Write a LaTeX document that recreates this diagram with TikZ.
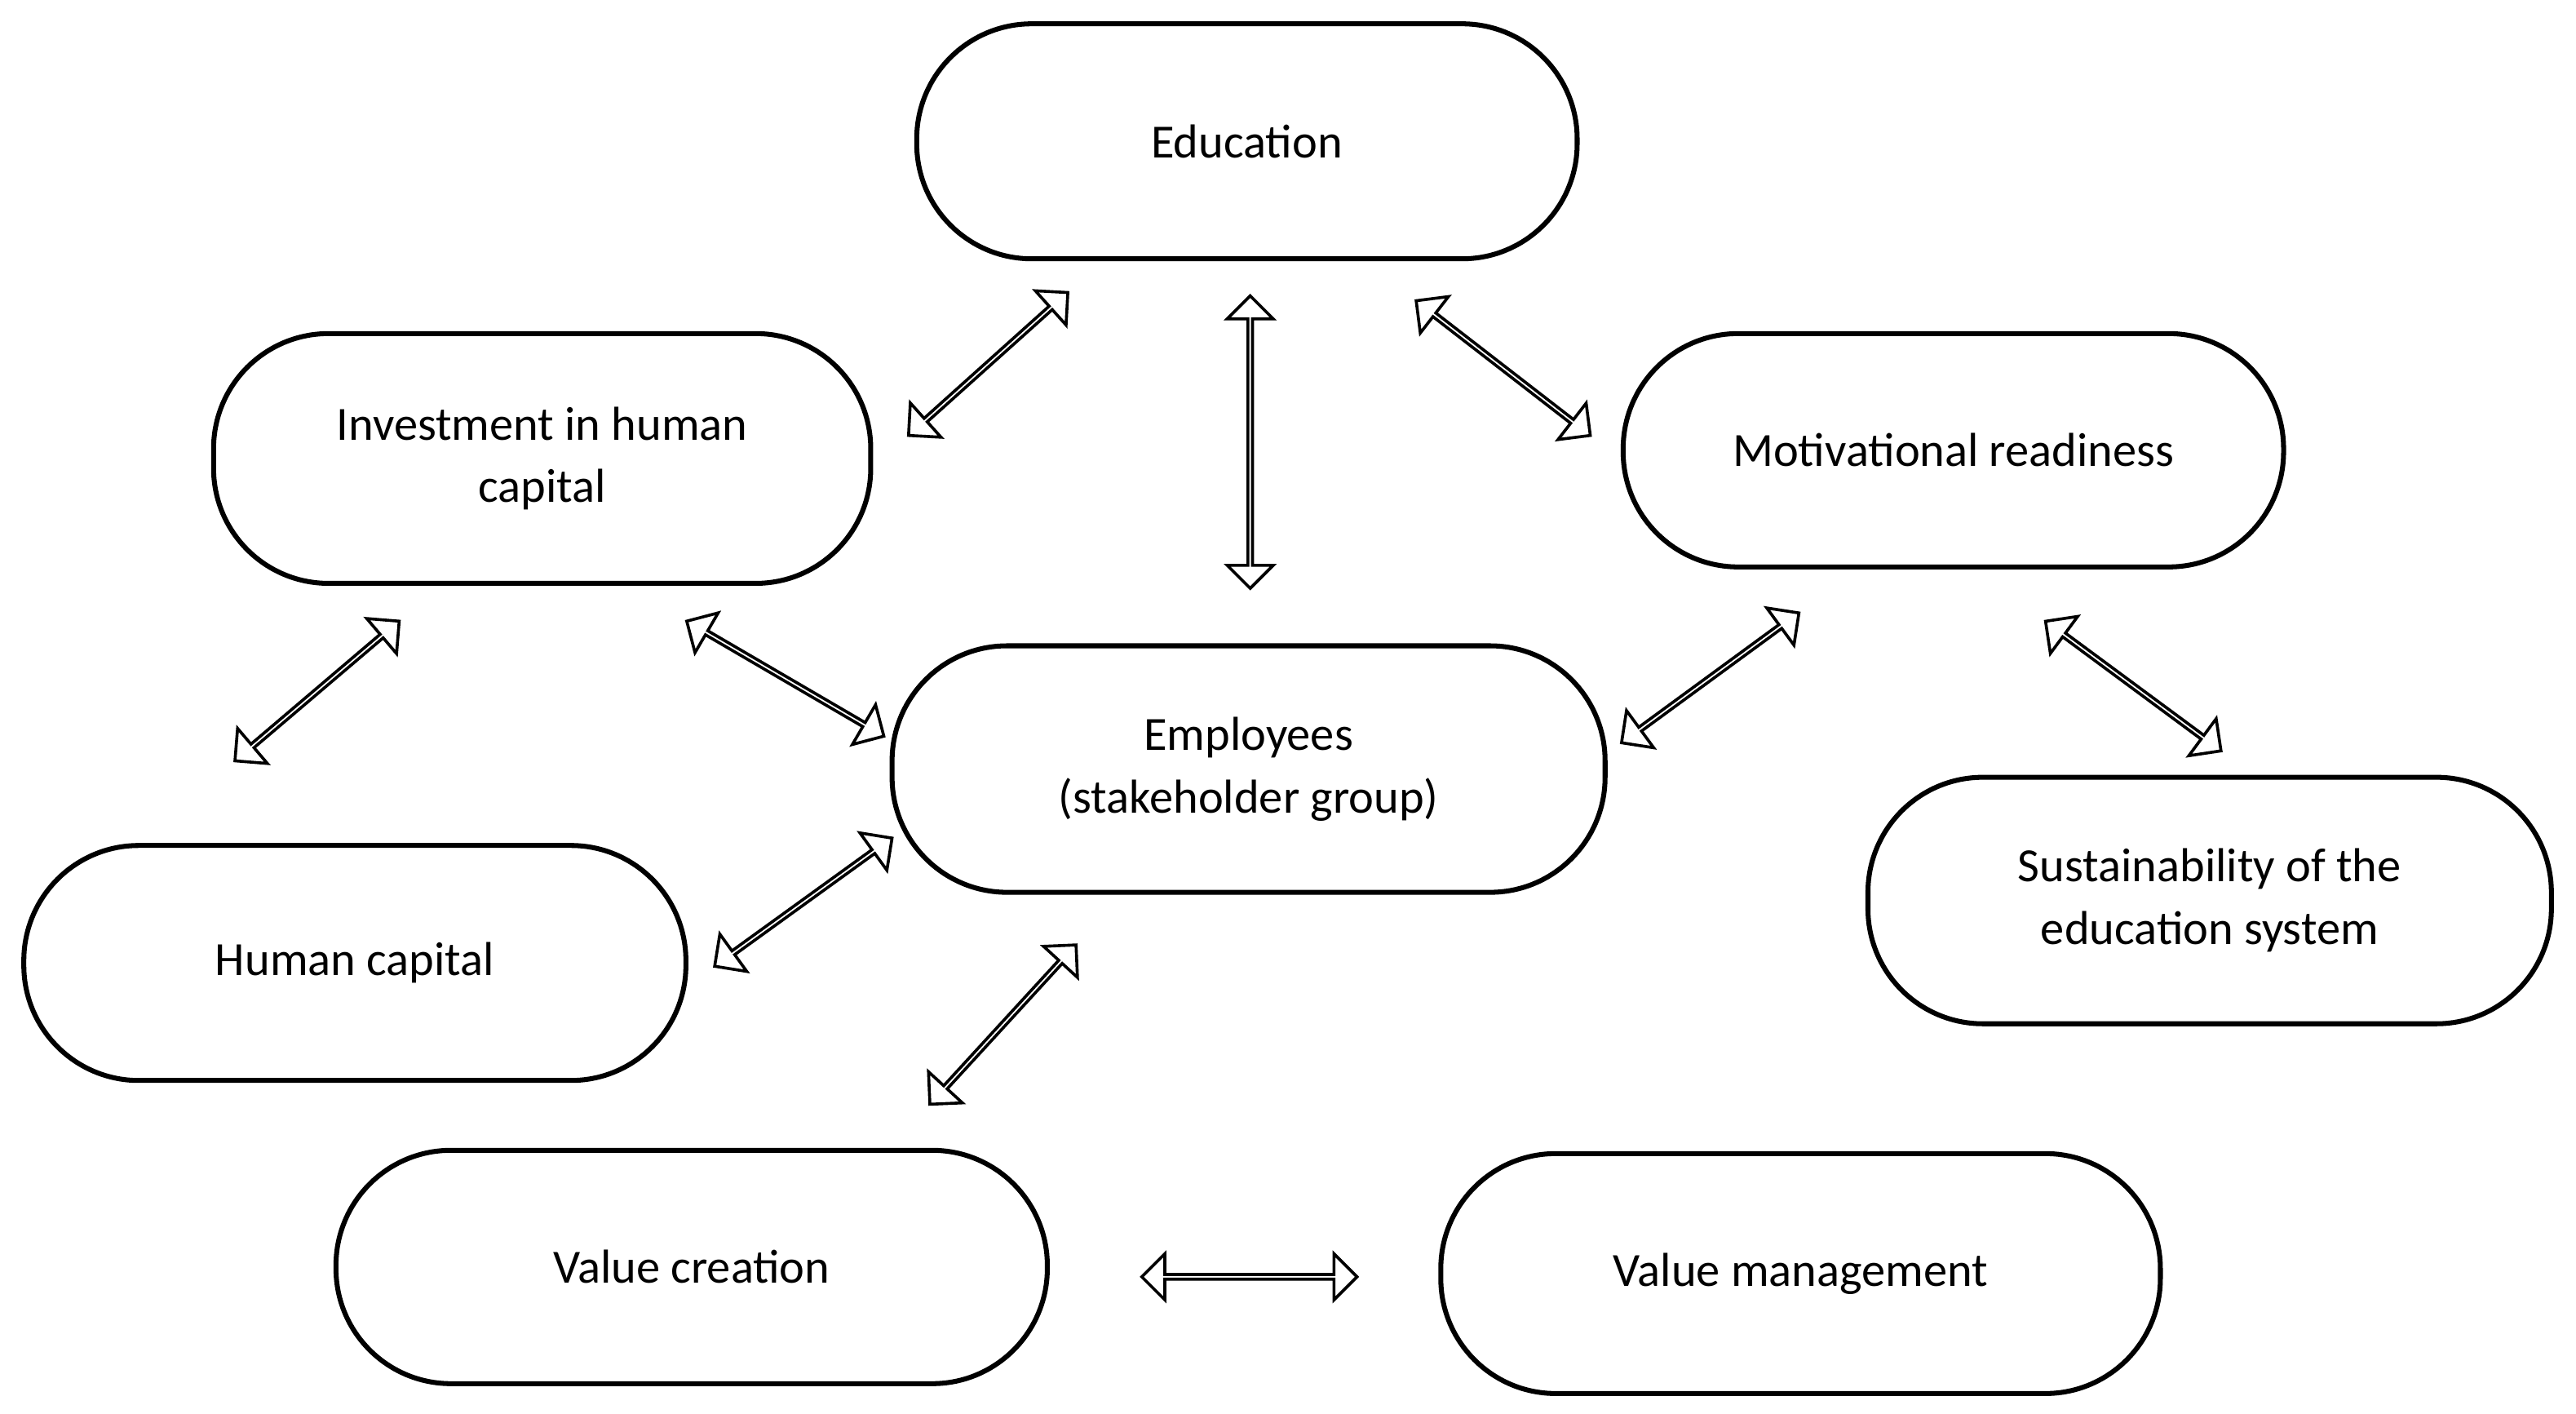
\documentclass[tikz,border=0pt]{standalone}
\usepackage{fontspec}
\setmainfont{Carlito}
\usetikzlibrary{shapes.arrows,calc}
\begin{document}
\begin{tikzpicture}[x=0.5pt,y=-0.5pt,
  box/.style={draw,line width=1.5pt,rounded corners=35pt,align=center,font=\fontsize{14.5}{19}\selectfont,inner sep=0pt},
  darr/.style={draw,line width=0.9pt,double arrow,inner sep=0pt,minimum width=14pt,double arrow head extend=4pt,double arrow tip angle=90}]
\useasboundingbox (0,0) rectangle (1568,860);
\node[box,minimum width=201pt,minimum height=71.5pt] (edu) at (759,86) {Education};
\node[box,minimum width=200pt,minimum height=76pt] (inv) at (330,279) {Investment in human\\capital};
\node[box,minimum width=201pt,minimum height=71pt] (mot) at (1189,274) {Motivational readiness};
\node[box,minimum width=217pt,minimum height=75pt] (emp) at (760,468) {Employees\\(stakeholder group)};
\node[box,minimum width=208pt,minimum height=75pt] (sus) at (1345,548) {Sustainability of the\\education system};
\node[box,minimum width=201.5pt,minimum height=71.5pt] (hum) at (216,586) {Human capital};
\node[box,minimum width=216.5pt,minimum height=71pt] (vc) at (421,771) {Value creation};
\node[box,minimum width=219pt,minimum height=73pt] (vm) at (1096,775) {Value management};
\newcommand{\darrow}[3]{%
 \coordinate (#3s) at #1; \coordinate (#3e) at #2;
 \path let \p1=($(#3e)-(#3s)$), \n1={veclen(\x1,\y1)}, \n2={atan2(\y1,\x1)} in
   node[darr,minimum height=\n1,rotate=\n2] (#3) at ($(#3s)!0.5!(#3e)$) {};}
\darrow{(553,265)}{(650,178)}{a1}
\darrow{(761,180)}{(761,358)}{a2}
\darrow{(862,183)}{(968,265)}{a3}
\darrow{(143,463)}{(243,378)}{a4}
\darrow{(418,378)}{(538,448)}{a5}
\darrow{(987,452)}{(1095,373)}{a6}
\darrow{(1245,378)}{(1352,457)}{a7}
\darrow{(435,588)}{(543,510)}{a8}
\darrow{(566,672)}{(655,575)}{a9}
\darrow{(695,777)}{(826,777)}{a10}
\end{tikzpicture}
\end{document}
